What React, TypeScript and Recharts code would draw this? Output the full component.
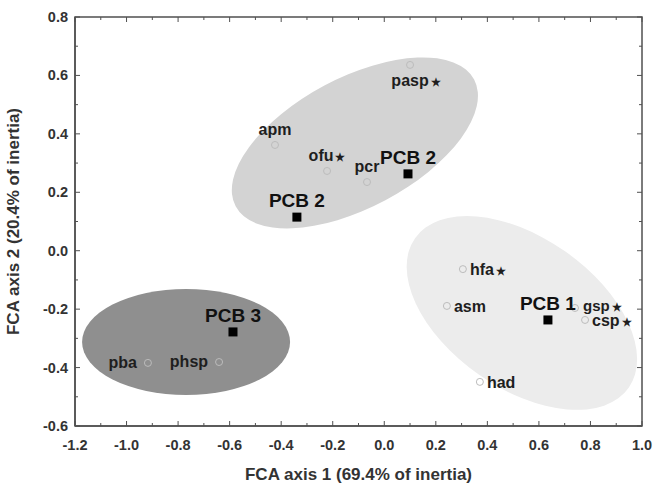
import React from 'react';
import { ScatterChart, Scatter, XAxis, YAxis, Label } from 'recharts';

// ---- axis ticks ----
const xTicks = [-1.2, -1.1, -1.0, -0.9, -0.8, -0.7, -0.6, -0.5, -0.4, -0.3, -0.2, -0.1, 0.0, 0.1, 0.2, 0.3, 0.4, 0.5, 0.6, 0.7, 0.8, 0.9, 1.0];
const xTickLabels = ['-1.2', '-1.0', '-0.8', '-0.6', '-0.4', '-0.2', '0.0', '0.2', '0.4', '0.6', '0.8', '1.0'];
const yTicks = [-0.6, -0.5, -0.4, -0.3, -0.2, -0.1, 0.0, 0.1, 0.2, 0.3, 0.4, 0.5, 0.6, 0.7, 0.8];
const yTickLabels = ['-0.6', '-0.4', '-0.2', '0.0', '0.2', '0.4', '0.6', '0.8'];

// ---- PCB group centroids ----
const groupNames = ['PCB 2', 'PCB 2', 'PCB 3', 'PCB 1'];
const groupX = [-0.339, 0.092, -0.587, 0.635];
const groupY = [0.115, 0.263, -0.278, -0.237];

// ---- species ----
const speciesNames = ['apm', 'ofu', 'pcr', 'pasp', 'hfa', 'asm', 'had', 'gsp', 'csp', 'pba', 'phsp'];
const speciesX = [-0.424, -0.222, -0.067, 0.100, 0.305, 0.243, 0.371, 0.740, 0.779, -0.917, -0.641];
const speciesY = [0.362, 0.273, 0.235, 0.636, -0.063, -0.189, -0.449, -0.196, -0.237, -0.384, -0.381];
const speciesStar = [false, true, false, true, true, false, false, true, true, false, false];

// ---- group ellipses (centre, semi-axes in axis-1 units, rotation in degrees) ----
const ellipseX = [-0.114, -0.769, 0.534];
const ellipseY = [0.369, -0.3125, -0.213];
const ellipseA = [0.524, 0.4035, 0.506];
const ellipseB = [0.252, 0.2056, 0.292];
const ellipseAngle = [-28, 0, 35];

// ---- styling ----
const ellipseFill = ['#d3d3d3', '#8f8f8f', '#ececec'];
const labelSide: Record<string, string> = {
  apm: 'above', ofu: 'above', pcr: 'above', pasp: 'below',
  hfa: 'right', asm: 'right', had: 'right', gsp: 'rightHigh', csp: 'right',
  pba: 'left', phsp: 'left',
};
const FONT = '"Liberation Sans", Arial, sans-serif';
const W = 654;
const H = 486;
const MARGIN = { top: 17, right: 12, left: 0, bottom: 0 };
const Y_AXIS_W = 75;
const X_AXIS_H = 60;
const PLOT_L = MARGIN.left + Y_AXIS_W;
const PLOT_T = MARGIN.top;
const PLOT_W = W - MARGIN.right - PLOT_L;
const PLOT_H = H - PLOT_T - X_AXIS_H;
const X_MIN = -1.2, X_MAX = 1.0, Y_MIN = -0.6, Y_MAX = 0.8;
const PX_PER_UNIT = PLOT_W / (X_MAX - X_MIN);
const PX_PER_UNIT_Y = PLOT_H / (Y_MAX - Y_MIN);
const AXIS_COLOR = '#505050';
const MAJOR_LEN = 5;
const MINOR_LEN = 3;

const ellipseData = ellipseX.map((x, i) => ({
  x, y: ellipseY[i], a: ellipseA[i], b: ellipseB[i], angle: ellipseAngle[i], fill: ellipseFill[i],
}));
const groupData = groupNames.map((name, i) => ({ name, x: groupX[i], y: groupY[i] }));
const speciesData = speciesNames.map((name, i) => ({ name, x: speciesX[i], y: speciesY[i], star: speciesStar[i] }));

const isMajor = (v: number) => Math.round(v * 10) % 2 === 0;
const fmt = (v: number) => {
  const s = (Math.round(v * 10) / 10).toFixed(1);
  return s === '-0.0' ? '0.0' : s;
};

const BottomTick = (p: any) => {
  const v = p.payload.value as number;
  const lbl = isMajor(v) ? xTickLabels.find((t) => t === fmt(v)) : null;
  if (!lbl) return <g />;
  return (
    <text x={p.x} y={p.y + 24} textAnchor="middle" fontFamily={FONT} fontWeight="bold" fontSize={14.5} fill="#333">
      {lbl}
    </text>
  );
};
const LeftTick = (p: any) => {
  const v = p.payload.value as number;
  const lbl = isMajor(v) ? yTickLabels.find((t) => t === fmt(v)) : null;
  if (!lbl) return <g />;
  return (
    <text x={p.x - 7} y={p.y + 5} textAnchor="end" fontFamily={FONT} fontWeight="bold" fontSize={14.5} fill="#333">
      {lbl}
    </text>
  );
};

// plot frame with inward tick marks on all four sides (overlay, same geometry as the chart's plot area)
const Frame = () => {
  const px = (v: number) => PLOT_L + (v - X_MIN) * PX_PER_UNIT;
  const py = (v: number) => PLOT_T + (Y_MAX - v) * PX_PER_UNIT_Y;
  const L = PLOT_L, T = PLOT_T, R = PLOT_L + PLOT_W, B = PLOT_T + PLOT_H;
  return (
    <svg
      width={W}
      height={H}
      style={{ position: 'absolute', left: 0, top: 0, pointerEvents: 'none', zIndex: 2 }}
    >
      <rect x={L} y={T} width={PLOT_W} height={PLOT_H} fill="none" stroke={AXIS_COLOR} strokeWidth={1.5} />
      {xTicks.map((v) => {
        const len = isMajor(v) ? MAJOR_LEN : MINOR_LEN;
        const x = px(v);
        return (
          <g key={`x${v}`}>
            <line x1={x} x2={x} y1={B} y2={B - len} stroke={AXIS_COLOR} strokeWidth={1} />
            <line x1={x} x2={x} y1={T} y2={T + len} stroke={AXIS_COLOR} strokeWidth={1} />
          </g>
        );
      })}
      {yTicks.map((v) => {
        const len = isMajor(v) ? MAJOR_LEN : MINOR_LEN;
        const y = py(v);
        return (
          <g key={`y${v}`}>
            <line x1={L} x2={L + len} y1={y} y2={y} stroke={AXIS_COLOR} strokeWidth={1} />
            <line x1={R} x2={R - len} y1={y} y2={y} stroke={AXIS_COLOR} strokeWidth={1} />
          </g>
        );
      })}
    </svg>
  );
};

const EllipseShape = (p: any) => {
  const d = p.payload;
  return (
    <ellipse
      cx={p.cx}
      cy={p.cy}
      rx={d.a * PX_PER_UNIT}
      ry={d.b * PX_PER_UNIT}
      fill={d.fill}
      transform={`rotate(${d.angle} ${p.cx} ${p.cy})`}
    />
  );
};

const GroupShape = (p: any) => (
  <g>
    <rect x={p.cx - 4.5} y={p.cy - 4.5} width={9} height={9} fill="#000" />
    <text x={p.cx} y={p.cy - 10} textAnchor="middle" fontFamily={FONT} fontWeight="bold" fontSize={19} fill="#111">
      {p.payload.name}
    </text>
  </g>
);

const SpeciesShape = (p: any) => {
  const d = p.payload;
  const side = labelSide[d.name];
  let tx = p.cx;
  let ty = p.cy;
  let size = 16;
  let anchor: 'start' | 'middle' | 'end' = 'middle';
  if (side === 'above') { ty = p.cy - 10; }
  else if (side === 'below') { ty = p.cy + 21; tx = p.cx + 6; }
  else if (side === 'right') { tx = p.cx + 7; ty = p.cy + 6; anchor = 'start'; }
  else if (side === 'rightHigh') { tx = p.cx + 8; ty = p.cy + 3; anchor = 'start'; size = 15; }
  else if (side === 'left') { tx = p.cx - 11; ty = p.cy + 5; anchor = 'end'; }
  return (
    <g>
      <circle cx={p.cx} cy={p.cy} r={3.5} fill="none" stroke="#bcbcbc" strokeWidth={1} />
      <text x={tx} y={ty} textAnchor={anchor} fontFamily={FONT} fontWeight="bold" fontSize={size} fill="#1e1e1e">
        {d.name}
        {d.star && <tspan dx={2} fontSize={11}>★</tspan>}
      </text>
    </g>
  );
};

export default function App() {
  return (
    <div style={{ position: 'absolute', left: 0, top: 0, width: W, height: H, background: '#fff' }}>
      <ScatterChart width={W} height={H} margin={MARGIN}>
        <XAxis
          dataKey="x"
          type="number"
          domain={[X_MIN, X_MAX]}
          ticks={xTicks}
          interval={0}
          height={X_AXIS_H}
          tickSize={0}
          tickMargin={0}
          tickLine={false}
          tick={BottomTick}
          axisLine={{ stroke: AXIS_COLOR, strokeWidth: 1.5 }}
        >
          <Label
            content={(props: any) => {
              const vb = props.viewBox;
              return (
                <text x={vb.x + vb.width / 2} y={vb.y + 54} textAnchor="middle" fontFamily={FONT} fontWeight="bold" fontSize={17} fill="#333">
                  FCA axis 1 (69.4% of inertia)
                </text>
              );
            }}
          />
        </XAxis>
        <YAxis
          dataKey="y"
          type="number"
          domain={[Y_MIN, Y_MAX]}
          ticks={yTicks}
          interval={0}
          width={Y_AXIS_W}
          tickSize={0}
          tickMargin={0}
          tickLine={false}
          tick={LeftTick}
          axisLine={{ stroke: AXIS_COLOR, strokeWidth: 1.5 }}
        >
          <Label
            content={(props: any) => {
              const vb = props.viewBox;
              const cx = 19;
              const cy = vb.y + vb.height / 2;
              return (
                <text x={cx} y={cy} transform={`rotate(-90 ${cx} ${cy})`} textAnchor="middle" fontFamily={FONT} fontWeight="bold" fontSize={17} fill="#333">
                  FCA axis 2 (20.4% of inertia)
                </text>
              );
            }}
          />
        </YAxis>
        <Scatter data={ellipseData} shape={EllipseShape} isAnimationActive={false} />
        <Scatter data={speciesData} shape={SpeciesShape} isAnimationActive={false} />
        <Scatter data={groupData} shape={GroupShape} isAnimationActive={false} />
      </ScatterChart>
      <Frame />
    </div>
  );
}
